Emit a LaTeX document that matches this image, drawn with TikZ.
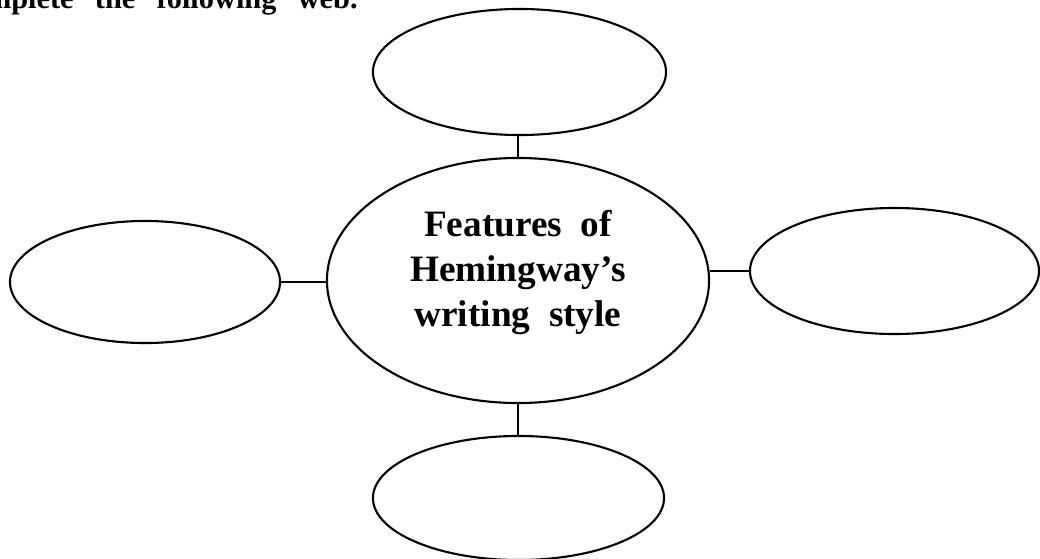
\documentclass[tikz,border=0pt]{standalone}
\usepackage{fontspec}
\setmainfont{Liberation Serif}
\usetikzlibrary{shapes.geometric}

\tikzset{
    bubble/.style={draw=black, ellipse, line width=1.5pt, inner sep=0pt},
    link/.style={line width=1.5pt}
}

\begin{document}
\begin{tikzpicture}[x=0.025cm, y=-0.025cm]
    % Page frame: 1040 x 559 units, origin at top left
    \useasboundingbox (0,0) rectangle (1040,559);
    \clip (0,0) rectangle (1040,559);

    % Instruction line, cut off at the top edge
    \node[anchor=base east, inner sep=0pt, font=\bfseries\fontsize{21.6}{24}\selectfont] (task) at (358,9) {Complete\hspace{0.7em}the\hspace{0.7em}following\hspace{0.7em}web.};

    % Centre of the web
    \node[bubble, minimum width=9.55cm, minimum height=6.125cm] (centre) at (518,280.5) {};
    \node[align=center, inner sep=0pt, font=\bfseries\fontsize{26.5}{32}\selectfont] (title) at (518,272) {Features\ \ of\\Hemingway's\\writing\ \ style};

    % Empty bubbles round it
    \node[bubble, minimum width=7.325cm, minimum height=3.15cm] (top) at (519.5,72) {};
    \node[bubble, minimum width=6.75cm, minimum height=3.05cm] (left) at (145,282) {};
    \node[bubble, minimum width=7.225cm, minimum height=3.15cm] (right) at (894.5,271) {};
    \node[bubble, minimum width=7.275cm, minimum height=3.1cm] (bottom) at (518.5,498) {};

    % Spokes, kept straight
    \draw[link] (centre.north) -- (centre.north |- top.south);
    \draw[link] (left.east) -- (left.east -| centre.west);
    \draw[link] (centre.east |- right.west) -- (right.west);
    \draw[link] (centre.south) -- (centre.south |- bottom.north);
\end{tikzpicture}
\end{document}
